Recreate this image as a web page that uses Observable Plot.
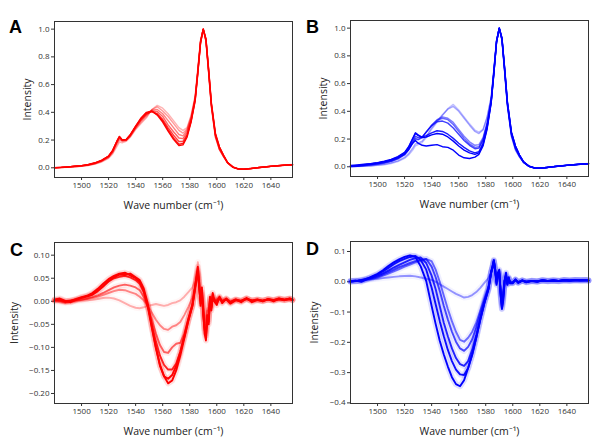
<!DOCTYPE html>
<html>
<head>
<meta charset="utf-8">
<script src="https://cdn.jsdelivr.net/npm/d3@7"></script>
<script src="https://cdn.jsdelivr.net/npm/@observablehq/plot@0.6"></script>
<style>
  body { margin: 0; background: #fff; }
  #fig { position: relative; width: 602px; height: 441px; overflow: hidden; font-family: "Open Sans", sans-serif; }
  .panel { position: absolute; }
  .letter { position: absolute; font-family: "Liberation Sans", Arial, sans-serif; font-weight: bold; font-size: 18px; line-height: 18px; color: #000; }
  g[aria-label="x-axis label"] text, g[aria-label="y-axis label"] text { font-size: 10.5px; fill: #222; }
</style>
</head>
<body>
<div id="fig">
  <div class="panel" id="pA" style="left:0;top:0"></div>
  <div class="panel" id="pB" style="left:301px;top:0"></div>
  <div class="panel" id="pC" style="left:0;top:220px"></div>
  <div class="panel" id="pD" style="left:301px;top:220px"></div>
  <div class="letter" style="left:9px;top:18px">A</div>
  <div class="letter" style="left:306px;top:18px">B</div>
  <div class="letter" style="left:10px;top:241px">C</div>
  <div class="letter" style="left:306px;top:240px">D</div>
</div>
<script>
// ---------- data ----------
const xTicks = [1500, 1520, 1540, 1560, 1580, 1600, 1620, 1640];
const yTicksAB = [0, 0.2, 0.4, 0.6, 0.8, 1.0];
const yTicksC = [0.10, 0.05, 0.00, -0.05, -0.10, -0.15, -0.20];
const yTicksD = [0.1, 0.0, -0.1, -0.2, -0.3, -0.4];

const waveAB = [1480,1485,1490,1495,1500,1505,1510,1515,1520,1523,1526,1528,1530,1533,1536,1540,1544,1548,1552,1556,1560,1564,1568,1572,1575,1578,1581,1584,1586,1588,1590,1592,1594,1596,1599,1602,1605,1608,1612,1616,1620,1625,1630,1635,1640,1645,1650,1656];

const a0 = [0.000,0.002,0.004,0.006,0.010,0.016,0.026,0.042,0.068, 0.100,0.150,0.185,0.180,0.190,0.220,0.275, 0.32,0.36,0.42,0.45,0.43,0.39,0.34,0.29,0.27,0.29,0.38, 0.52,0.72,0.92,1.00,0.91,0.68,0.44,0.22,0.13,0.08,0.035, 0.005,-0.008,-0.010,-0.006,0.000,0.006,0.011,0.016,0.020,0.024];
const a1 = [0.001,0.002,0.005,0.008,0.012,0.018,0.029,0.046,0.073, 0.108,0.165,0.200,0.190,0.196,0.225,0.282, 0.33,0.37,0.42,0.44,0.41,0.37,0.32,0.27,0.25,0.28,0.37, 0.51,0.71,0.92,1.00,0.91,0.68,0.44,0.22,0.13,0.08,0.034, 0.004,-0.009,-0.011,-0.006,0.000,0.006,0.011,0.015,0.019,0.023];
const a2 = [0.000,0.003,0.006,0.009,0.013,0.020,0.031,0.049,0.077, 0.114,0.175,0.210,0.195,0.198,0.228,0.288, 0.34,0.38,0.415,0.42,0.39,0.34,0.29,0.24,0.23,0.27,0.36, 0.50,0.70,0.91,1.00,0.92,0.69,0.45,0.23,0.13,0.08,0.035, 0.005,-0.008,-0.010,-0.005,0.001,0.006,0.010,0.015,0.019,0.022];
const a3 = [0.001,0.002,0.006,0.010,0.014,0.021,0.033,0.051,0.080, 0.118,0.182,0.218,0.198,0.200,0.232,0.292, 0.345,0.385,0.41,0.405,0.37,0.31,0.26,0.215,0.21,0.255,0.35, 0.50,0.70,0.91,1.00,0.92,0.69,0.45,0.23,0.14,0.085,0.036, 0.004,-0.009,-0.011,-0.006,0.000,0.005,0.010,0.014,0.018,0.021];
const a4 = [0.000,0.003,0.006,0.011,0.015,0.022,0.034,0.053,0.082, 0.122,0.186,0.222,0.200,0.202,0.235,0.296, 0.35,0.39,0.405,0.39,0.35,0.29,0.235,0.19,0.19,0.24,0.34, 0.49,0.69,0.91,1.00,0.92,0.70,0.46,0.24,0.14,0.09,0.037, 0.005,-0.008,-0.010,-0.006,0.000,0.006,0.010,0.015,0.019,0.022];
const a5 = [0.001,0.003,0.007,0.011,0.016,0.023,0.035,0.054,0.084, 0.124,0.188,0.224,0.201,0.203,0.237,0.298, 0.355,0.395,0.405,0.385,0.34,0.275,0.215,0.17,0.175,0.23,0.335, 0.49,0.69,0.90,1.00,0.93,0.70,0.46,0.24,0.15,0.09,0.038, 0.004,-0.009,-0.011,-0.006,0.001,0.005,0.010,0.014,0.018,0.021];
const a6 = [0.000,0.003,0.007,0.012,0.016,0.024,0.036,0.055,0.085, 0.126,0.190,0.226,0.202,0.204,0.238,0.300, 0.36,0.40,0.41,0.38,0.33,0.265,0.205,0.16,0.165,0.22,0.33, 0.48,0.68,0.90,1.00,0.93,0.71,0.47,0.25,0.15,0.09,0.038, 0.005,-0.008,-0.010,-0.005,0.000,0.006,0.011,0.015,0.019,0.022];

const b0 = [0.000,0.002,0.004,0.006,0.010,0.015,0.024,0.038,0.060, 0.085,0.120,0.150,0.160,0.175,0.210,0.270, 0.32,0.37,0.42,0.45,0.41,0.36,0.31,0.265,0.25,0.27,0.36, 0.50,0.70,0.91,1.00,0.91,0.68,0.44,0.22,0.12,0.07,0.030, 0.004,-0.008,-0.010,-0.005,0.002,0.008,0.012,0.016,0.020,0.025];
const b1 = [0.001,0.003,0.005,0.008,0.012,0.018,0.028,0.043,0.068, 0.095,0.135,0.165,0.170,0.185,0.220,0.280, 0.33,0.375,0.415,0.435,0.40,0.35,0.30,0.255,0.24,0.265,0.355, 0.50,0.70,0.91,1.00,0.91,0.68,0.44,0.22,0.12,0.07,0.031, 0.003,-0.009,-0.011,-0.006,0.001,0.007,0.011,0.015,0.019,0.023];
const b2 = [0.002,0.004,0.008,0.012,0.018,0.026,0.038,0.056,0.085, 0.120,0.170,0.200,0.195,0.210,0.250,0.300, 0.34,0.36,0.35,0.32,0.27,0.22,0.18,0.155,0.16,0.21,0.32, 0.48,0.69,0.91,1.00,0.92,0.69,0.45,0.23,0.13,0.075,0.032, 0.004,-0.008,-0.010,-0.005,0.001,0.006,0.010,0.015,0.019,0.022];
const b3 = [0.001,0.004,0.009,0.014,0.020,0.028,0.040,0.059,0.090, 0.125,0.175,0.205,0.198,0.212,0.252,0.300, 0.335,0.35,0.34,0.305,0.255,0.205,0.165,0.14,0.145,0.20,0.31, 0.48,0.69,0.91,1.00,0.92,0.69,0.45,0.23,0.13,0.075,0.032, 0.003,-0.009,-0.011,-0.006,0.000,0.006,0.010,0.014,0.018,0.021];
const b4 = [0.003,0.006,0.011,0.016,0.022,0.030,0.043,0.062,0.094, 0.130,0.185,0.220,0.210,0.215,0.250,0.295, 0.325,0.33,0.315,0.28,0.235,0.19,0.155,0.13,0.135,0.19,0.30, 0.47,0.68,0.90,1.00,0.92,0.70,0.46,0.24,0.14,0.08,0.034, 0.004,-0.008,-0.010,-0.005,0.001,0.006,0.010,0.015,0.019,0.022];
const b5 = [0.004,0.008,0.014,0.020,0.027,0.036,0.050,0.070,0.100, 0.140,0.200,0.240,0.225,0.215,0.225,0.245, 0.26,0.255,0.235,0.205,0.17,0.14,0.115,0.10,0.11,0.17,0.29, 0.47,0.68,0.90,1.00,0.92,0.70,0.46,0.24,0.14,0.08,0.034, 0.003,-0.009,-0.011,-0.006,0.000,0.005,0.010,0.014,0.018,0.021];
const b6 = [0.005,0.010,0.016,0.022,0.030,0.040,0.054,0.074,0.104, 0.145,0.205,0.245,0.230,0.210,0.215,0.230, 0.24,0.235,0.215,0.185,0.15,0.12,0.10,0.09,0.10,0.16,0.28, 0.46,0.67,0.90,1.00,0.93,0.71,0.47,0.25,0.15,0.085,0.036, 0.004,-0.008,-0.010,-0.005,0.001,0.006,0.011,0.015,0.019,0.022];
const b7 = [0.010,0.014,0.018,0.022,0.028,0.036,0.048,0.064,0.090, 0.125,0.170,0.190,0.170,0.155,0.150,0.155, 0.160,0.145,0.140,0.120,0.085,0.065,0.060,0.070,0.090,0.150,0.27, 0.46,0.67,0.90,1.00,0.93,0.71,0.47,0.25,0.15,0.085,0.036, 0.005,-0.008,-0.010,-0.005,0.000,0.006,0.010,0.015,0.018,0.022];

const waveCD = [1480,1484,1488,1492,1496,1500,1504,1508,1512,1516,1520,1524,1528,1532,1536,1540,1543,1546,1549,1552,1555,1558,1561,1564,1567,1570,1573,1576,1579,1582,1584,1585,1586,1587,1588,1589,1590,1591,1592,1593,1594,1595,1596,1597,1598,1600,1602,1604,1607,1610,1614,1618,1622,1626,1630,1634,1638,1642,1646,1650,1654,1656];

const c0 = [0.004,0.006,0.001,-0.002,0.003,0.008,0.010,0.014,0.022,0.032,0.044,0.052,0.058,0.057,0.060,0.052, 0.046,0.028,-0.005,-0.055,-0.100,-0.138,-0.162,-0.178,-0.172,-0.150,-0.118,-0.080,-0.042,-0.010, 0.030,0.055,0.075,0.040,-0.010,0.030,-0.020,-0.070,-0.085,-0.040,-0.050,0.010,-0.020,0.012,0.000, -0.008,0.010,-0.004,0.006,-0.003, 0.004,-0.002,0.006,0.001,0.004,0.000,0.005,0.002,0.006,0.003,0.006,0.002];
const c1 = [0.002,0.004,-0.001,0.001,0.005,0.009,0.012,0.018,0.027,0.038,0.048,0.055,0.060,0.062,0.056,0.050, 0.042,0.022,-0.012,-0.058,-0.102,-0.140,-0.163,-0.168,-0.160,-0.140,-0.110,-0.074,-0.038,-0.006, 0.034,0.050,0.068,0.030,0.005,0.020,-0.030,-0.062,-0.075,-0.030,-0.045,0.005,-0.012,0.018,0.004, -0.004,0.006,0.000,0.004,-0.005, 0.002,0.001,0.007,-0.002,0.003,0.002,0.004,0.000,0.005,0.004,0.005,0.003];
const c2 = [0.003,0.002,0.000,0.002,0.004,0.007,0.011,0.016,0.024,0.034,0.043,0.050,0.053,0.055,0.052,0.046, 0.038,0.020,-0.010,-0.050,-0.088,-0.118,-0.138,-0.148,-0.148,-0.135,-0.110,-0.078,-0.042,-0.008, 0.030,0.048,0.062,0.035,-0.005,0.015,-0.025,-0.058,-0.070,-0.035,-0.040,0.000,-0.015,0.010,0.002, 0.002,0.008,-0.002,0.005,-0.002, 0.003,0.000,0.005,0.002,0.002,0.001,0.004,0.003,0.004,0.002,0.006,0.004];
const c3 = [0.002,0.001,-0.002,0.000,0.002,0.004,0.006,0.009,0.013,0.018,0.024,0.030,0.034,0.036,0.034,0.030, 0.024,0.010,-0.012,-0.040,-0.070,-0.095,-0.110,-0.112,-0.100,-0.092,-0.090,-0.070,-0.038,-0.010, 0.025,0.045,0.060,0.030,0.000,0.012,-0.020,-0.050,-0.065,-0.030,-0.035,0.002,-0.010,0.010,0.003, 0.000,0.006,0.000,0.004,-0.002, 0.003,0.001,0.005,0.001,0.003,0.000,0.004,0.002,0.005,0.003,0.004,0.002];
const c4 = [0.001,0.000,-0.002,0.001,0.002,0.003,0.005,0.007,0.010,0.014,0.018,0.022,0.025,0.024,0.020,0.016, 0.010,0.002,-0.010,-0.025,-0.040,-0.052,-0.060,-0.062,-0.055,-0.052,-0.045,-0.030,-0.012,0.008, 0.032,0.050,0.065,0.040,0.010,0.020,-0.010,-0.040,-0.050,-0.020,-0.030,0.005,-0.005,0.012,0.004, 0.004,0.008,0.002,0.005,0.000, 0.004,0.001,0.006,0.002,0.004,0.001,0.004,0.003,0.006,0.003,0.005,0.003];
const c5 = [0.000,-0.002,-0.004,-0.002,0.000,0.001,0.002,0.003,0.005,0.007,0.008,0.006,0.002,-0.004,-0.010,-0.014, -0.015,-0.013,-0.010,-0.008,-0.006,-0.008,-0.010,-0.008,-0.004,-0.002,0.002,0.010,0.020,0.030, 0.045,0.060,0.085,0.060,0.020,0.030,0.000,-0.030,-0.045,-0.015,-0.020,0.008,0.000,0.015,0.006, 0.006,0.010,0.003,0.006,0.001, 0.004,0.002,0.005,0.002,0.004,0.002,0.005,0.003,0.006,0.003,0.005,0.003];

const d0 = [0.002,0.004,0.000,0.008,0.018,0.026,0.038,0.052,0.064,0.074,0.082,0.087,0.082,0.050,0.002,-0.080, -0.140,-0.195,-0.240,-0.280,-0.315,-0.338,-0.345,-0.325,-0.285,-0.240,-0.185,-0.125,-0.070,-0.025, 0.030,0.050,0.072,0.040,-0.010,0.030,0.040,-0.040,-0.090,-0.060,0.000,0.030,-0.010,0.015,-0.005, -0.005,0.008,-0.004,0.004,-0.002, 0.003,0.000,0.005,0.002,0.004,0.003,0.006,0.004,0.005,0.006,0.005,0.004];
const d1 = [0.003,0.002,0.004,0.010,0.016,0.024,0.034,0.046,0.058,0.068,0.076,0.082,0.085,0.072,0.040,-0.020, -0.075,-0.130,-0.180,-0.225,-0.262,-0.290,-0.306,-0.308,-0.285,-0.240,-0.185,-0.125,-0.070,-0.025, 0.032,0.048,0.068,0.035,-0.005,0.025,0.035,-0.045,-0.088,-0.050,0.005,0.025,-0.008,0.012,-0.004, -0.004,0.006,-0.002,0.005,0.000, 0.002,0.001,0.004,0.003,0.005,0.002,0.005,0.004,0.006,0.005,0.006,0.004];
const d2 = [0.001,0.003,0.006,0.010,0.014,0.020,0.028,0.037,0.047,0.056,0.064,0.072,0.078,0.080,0.062,0.020, -0.025,-0.080,-0.135,-0.180,-0.220,-0.252,-0.272,-0.278,-0.262,-0.225,-0.175,-0.120,-0.068,-0.022, 0.034,0.050,0.070,0.040,0.000,0.028,0.030,-0.035,-0.080,-0.045,0.004,0.022,-0.006,0.012,-0.003, -0.003,0.007,-0.003,0.004,-0.001, 0.003,0.001,0.005,0.002,0.004,0.003,0.005,0.003,0.006,0.004,0.005,0.005];
const d3v = [0.000,0.002,0.005,0.008,0.012,0.017,0.024,0.032,0.040,0.048,0.055,0.062,0.068,0.073,0.075,0.050, 0.015,-0.030,-0.080,-0.125,-0.165,-0.198,-0.220,-0.228,-0.215,-0.190,-0.150,-0.105,-0.060,-0.020, 0.030,0.046,0.065,0.038,0.002,0.025,0.028,-0.030,-0.075,-0.040,0.003,0.020,-0.005,0.010,-0.002, -0.002,0.006,-0.002,0.004,0.000, 0.003,0.002,0.004,0.003,0.004,0.002,0.006,0.004,0.005,0.005,0.006,0.004];
const d4 = [0.001,0.003,0.004,0.007,0.010,0.014,0.020,0.027,0.034,0.042,0.050,0.057,0.064,0.070,0.075,0.068, 0.040,0.000,-0.045,-0.090,-0.130,-0.165,-0.192,-0.198,-0.185,-0.165,-0.135,-0.095,-0.055,-0.015, 0.030,0.046,0.068,0.040,0.005,0.022,0.025,-0.028,-0.070,-0.035,0.004,0.018,-0.004,0.010,-0.002, -0.002,0.005,-0.001,0.004,0.001, 0.003,0.002,0.005,0.003,0.004,0.003,0.005,0.004,0.006,0.004,0.005,0.005];
const d5 = [0.000,0.002,0.004,0.006,0.008,0.010,0.012,0.014,0.016,0.018,0.019,0.020,0.018,0.014,0.010,0.006, 0.000,-0.008,-0.016,-0.024,-0.032,-0.040,-0.046,-0.052,-0.050,-0.044,-0.034,-0.020,-0.004,0.012, 0.030,0.045,0.055,0.035,0.005,0.018,0.022,-0.020,-0.050,-0.025,0.004,0.015,-0.003,0.008,0.000, 0.000,0.006,0.001,0.004,0.001, 0.003,0.002,0.004,0.003,0.004,0.003,0.005,0.004,0.005,0.005,0.006,0.004];

// ---------- styles (separate from data) ----------
const alphaA = [0.3, 0.4, 0.5, 0.6, 0.75, 0.9, 1];
const alphaB = [0.25, 0.35, 0.5, 0.6, 0.75, 0.9, 1, 1];
const alphaC = [1, 1, 0.85, 0.6, 0.45, 0.3];
const alphaD = [1, 0.95, 0.85, 0.7, 0.55, 0.4];

function panel(o) {
  const sets = o.series.map(s => s.map((v, j) => ({w: o.xs[j], v})));
  const order = o.alphas.map((a, i) => i).sort((p, q) => o.alphas[p] - o.alphas[q]);
  const marks = [];
  if (o.halo) {
    order.forEach(i => marks.push(Plot.line(sets[i], {x: "w", y: "v", stroke: o.color, strokeOpacity: o.alphas[i] * 0.12, strokeWidth: 6})));
  }
  order.forEach(i => marks.push(Plot.line(sets[i], {x: "w", y: "v", stroke: o.color, strokeOpacity: o.alphas[i], strokeWidth: o.sw})));
  marks.push(Plot.frame({stroke: "#333", strokeWidth: 1}));
  return Plot.plot({
    width: 301, height: o.h,
    marginLeft: o.ml, marginRight: o.mr, marginTop: o.mt, marginBottom: o.mb,
    style: {fontFamily: "'Open Sans', sans-serif", fontSize: "8px", color: "#333", background: "transparent"},
    x: {domain: [1480, 1656], ticks: xTicks, tickFormat: d => String(d), tickSize: 3, tickPadding: 2,
        label: "Wave number (cm⁻¹)", labelAnchor: "center", labelOffset: 31, labelArrow: "none"},
    y: {domain: o.yDomain, ticks: o.yTicks, tickFormat: o.yFormat, tickSize: 3, tickPadding: 2,
        label: "Intensity", labelAnchor: "center", labelOffset: o.ylo, labelArrow: "none"},
    marks
  });
}

document.getElementById("pA").append(panel({xs: waveAB, series: [a0,a1,a2,a3,a4,a5,a6], alphas: alphaA, color: "#ff0000",
  yDomain: [-0.07, 1.055], yTicks: yTicksAB, yFormat: ".1f", h: 220, ml: 54, mr: 9, mt: 21, mb: 43, ylo: 31, sw: 1.4, halo: false}));
document.getElementById("pB").append(panel({xs: waveAB, series: [b0,b1,b2,b3,b4,b5,b6,b7], alphas: alphaB, color: "#0000ff",
  yDomain: [-0.07, 1.055], yTicks: yTicksAB, yFormat: ".1f", h: 220, ml: 49, mr: 14, mt: 20, mb: 44, ylo: 31, sw: 1.4, halo: false}));
document.getElementById("pC").append(panel({xs: waveCD, series: [c0,c1,c2,c3,c4,c5], alphas: alphaC, color: "#ff0000",
  yDomain: [-0.2217, 0.1275], yTicks: yTicksC, yFormat: ".2f", h: 221, ml: 54, mr: 9, mt: 22, mb: 38, ylo: 44, sw: 1.9, halo: true}));
document.getElementById("pD").append(panel({xs: waveCD, series: [d0,d1,d2,d3v,d4,d5], alphas: alphaD, color: "#0000ff",
  yDomain: [-0.402, 0.133], yTicks: yTicksD, yFormat: ".1f", h: 221, ml: 49, mr: 14, mt: 21, mb: 38, ylo: 40, sw: 1.9, halo: true}));
</script>
</body>
</html>
